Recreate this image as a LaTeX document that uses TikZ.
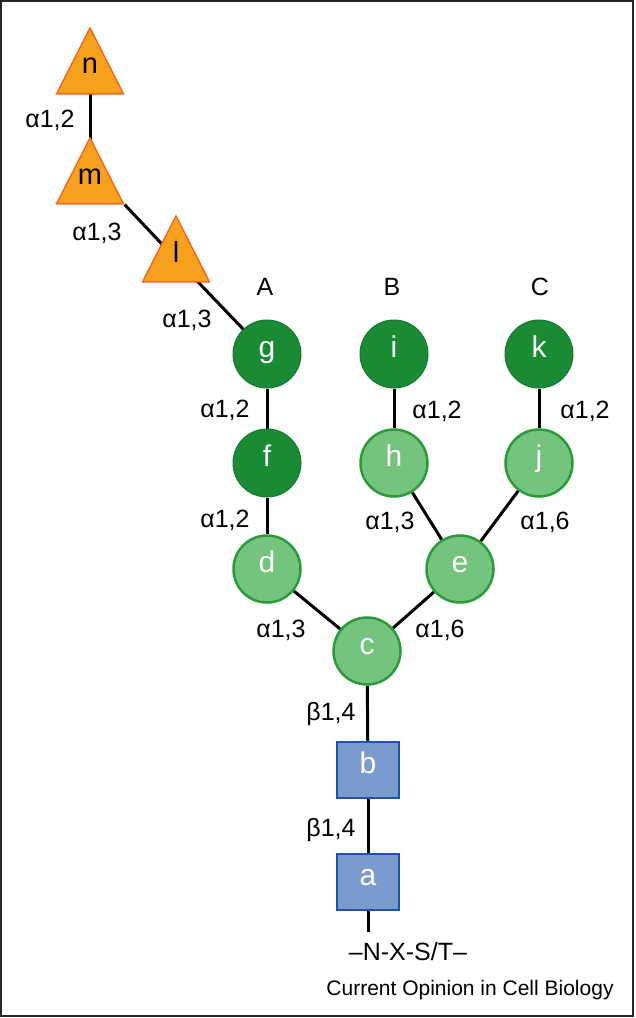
\documentclass[tikz,border=0pt]{standalone}
\usepackage{fontspec}
\setmainfont{Liberation Sans}
\usetikzlibrary{shapes.geometric,backgrounds}
\definecolor{dkgreen}{HTML}{1A8A35}
\definecolor{dkgreenb}{HTML}{167A2E}
\definecolor{ltgreen}{HTML}{74C47E}
\definecolor{ltgreenb}{HTML}{2A9A3C}
\definecolor{bluefill}{HTML}{7B9BCE}
\definecolor{blueb}{HTML}{1F55A8}
\definecolor{orfill}{HTML}{F8A11E}
\definecolor{orb}{HTML}{F26A22}
\begin{document}
\begin{tikzpicture}[x=1pt,y=-1pt,
  lbl/.style={font=\fontsize{25}{25}\selectfont, inner sep=0pt},
  sym/.style={font=\fontsize{30}{30}\selectfont, text=white, inner sep=0pt, text height=0.7em, text depth=0pt},
  dgc/.style={circle, minimum size=68pt, fill=dkgreen, draw=dkgreenb, line width=1pt, sym},
  lgc/.style={circle, minimum size=67pt, fill=ltgreen, draw=ltgreenb, line width=2.5pt, sym},
  sqb/.style={rectangle, minimum width=62pt, minimum height=56pt, fill=bluefill, draw=blueb, line width=2.5pt, sym},
  tri/.style={isosceles triangle, shape border rotate=90, isosceles triangle stretches, minimum width=67pt, minimum height=66pt, inner sep=0pt, fill=orfill, draw=orb, line width=1.5pt, anchor=apex},
  trit/.style={font=\fontsize{29}{29}\selectfont, inner sep=0pt, text height=0.7em, text depth=0pt},
  link/.style={line width=3pt, black}]
\useasboundingbox (0,0) rectangle (635,1018);
% triangles
\node[tri] (n) at (90,26) {};
\node[tri] (m) at (90,136) {};
\node[tri] (l) at (176,214) {};
\node[trit] (tn) at (90,70) {n};
\node[trit] (tm) at (90,181) {m};
\node[trit] (tl) at (176,259) {l};
% circles
\node[dgc] (g) at (267,354) {g};
\node[dgc] (i) at (394,354) {i};
\node[dgc] (k) at (539,354) {k};
\node[dgc] (f) at (267,463) {f};
\node[lgc] (h) at (394,463) {h};
\node[lgc] (j) at (539,463) {j};
\node[lgc] (d) at (267,569) {d};
\node[lgc] (e) at (460,569) {e};
\node[lgc] (c) at (367,651) {c};
% squares
\node[sqb] (b) at (368,770) {b};
\node[sqb] (a) at (368,882) {a};
\coordinate (pep) at (368,932);
% connectors
\begin{scope}[on background layer]
\draw[link] (n.center) -- (m.center);
\draw[link] (m.right corner) -- (tl.center);
\draw[link] (tl.center) -- (g.center);
\draw[link] (g) -- (f);
\draw[link] (f) -- (d);
\draw[link] (i) -- (h);
\draw[link] (k) -- (j);
\draw[link] (h) -- (e);
\draw[link] (j) -- (e);
\draw[link] (d) -- (c);
\draw[link] (e) -- (c);
\draw[link] (c) -- (b);
\draw[link] (b) -- (a);
\draw[link] (a) -- (pep);
\end{scope}
% labels
\node[lbl] (l1) at (50,120) {α1,2};
\node[lbl] (l2) at (97,233) {α1,3};
\node[lbl] (l3) at (187,320) {α1,3};
\node[lbl] (lA) at (265,287) {A};
\node[lbl] (lB) at (392,287) {B};
\node[lbl] (lC) at (540,287) {C};
\node[lbl] (l4) at (225,410) {α1,2};
\node[lbl] (l5) at (225,520) {α1,2};
\node[lbl] (l6) at (437,411) {α1,2};
\node[lbl] (l7) at (585,411) {α1,2};
\node[lbl] (l8) at (390,522) {α1,3};
\node[lbl] (l9) at (545,522) {α1,6};
\node[lbl] (l10) at (281,630) {α1,3};
\node[lbl] (l11) at (440,630) {α1,6};
\node[lbl] (l12) at (331,714) {β1,4};
\node[lbl] (l13) at (331,830) {β1,4};
\node[lbl] (pepl) at (408,952) {–N-X-S/T–};
\node[font=\fontsize{21}{21}\selectfont, inner sep=0pt] (src) at (470,990) {Current Opinion in Cell Biology};
\draw[line width=1.5pt, black!85] (1,1) rectangle (633,1016);
\end{tikzpicture}
\end{document}
